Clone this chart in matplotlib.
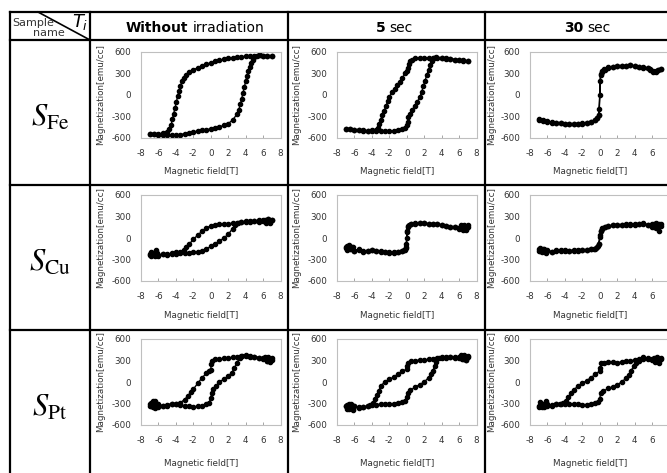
"""
Hysteresis loops M(H) for three samples (Fe, Cu, Pt) before and after
irradiation, laid out as a 3x3 table like the original report figure.
"""

import matplotlib
matplotlib.use("Agg")
import matplotlib.pyplot as plt
from matplotlib.lines import Line2D

W, H = 667, 473  # output size in pixels (dpi 100)

COLUMN_TITLES = [("Without", "irradiation"), ("5", "sec"), ("30", "sec")]
ROW_LABELS = [r"$S_{\mathrm{Fe}}$", r"$S_{\mathrm{Cu}}$", r"$S_{\mathrm{Pt}}$"]

X_TICKS = [-8, -6, -4, -2, 0, 2, 4, 6, 8]
Y_TICKS = [-600, -300, 0, 300, 600]

# (field [T], magnetization [emu/cc]): sweep down, then up
FE_WITHOUT = [
    (7, 545), (6.5, 550), (6, 548), (5.5, 552), (5, 548), (4.5, 545), (4, 540),
    (3.5, 535), (3, 528), (2.5, 520), (2, 512), (1.5, 500), (1, 485), (0.5, 470),
    (0, 450), (-0.5, 430), (-1, 405), (-1.5, 380), (-2, 350), (-2.5, 315),
    (-2.8, 285), (-3.1, 240), (-3.3, 190), (-3.5, 120), (-3.65, 50), (-3.8, -20),
    (-3.95, -100), (-4.1, -180), (-4.25, -260), (-4.4, -340), (-4.55, -420),
    (-4.75, -480), (-5, -515), (-5.5, -535), (-6, -540), (-6.5, -545), (-7, -540),
    (-7, -540), (-6.5, -548), (-6, -552), (-5.5, -555), (-5, -558), (-4.5, -560),
    (-4, -560), (-3.5, -552), (-3, -540), (-2.5, -528), (-2, -515), (-1.5, -505),
    (-1, -495), (-0.5, -485), (0, -472), (0.5, -460), (1, -445), (1.5, -425),
    (2, -400), (2.5, -350), (3, -270), (3.2, -210), (3.4, -130), (3.55, -50),
    (3.7, 30), (3.85, 110), (4, 190), (4.15, 260), (4.3, 330), (4.45, 390),
    (4.6, 440), (4.8, 490), (5, 525), (5.3, 545), (5.6, 552), (6, 550),
    (6.5, 548), (7, 545),
]
FE_5SEC = [
    (7, 478), (6.5, 482), (6, 490), (5.5, 495), (5, 500), (4.5, 505), (4, 510),
    (3.5, 515), (3, 518), (2.5, 520), (2, 520), (1.5, 518), (1, 510), (0.6, 495),
    (0.4, 470), (0.25, 430), (0.1, 380), (0, 340), (-0.2, 300), (-0.5, 240),
    (-0.8, 185), (-1.1, 135), (-1.4, 90), (-1.7, 35), (-2, -25), (-2.2, -90),
    (-2.4, -160), (-2.6, -220), (-2.8, -280), (-3, -350), (-3.15, -410),
    (-3.3, -460), (-3.5, -490), (-4, -495), (-4.5, -500), (-5, -495),
    (-5.5, -490), (-6, -485), (-6.5, -470), (-7, -480),
    (-7, -480), (-6.5, -470), (-6, -490), (-5.5, -495), (-5, -500), (-4.5, -505),
    (-4, -505), (-3.5, -505), (-3, -505), (-2.5, -502), (-2, -500), (-1.5, -498),
    (-1, -490), (-0.5, -475), (-0.2, -455), (0, -420), (0.1, -370), (0.2, -310),
    (0.35, -260), (0.6, -210), (0.9, -160), (1.2, -100), (1.5, -30), (1.7, 40),
    (1.9, 120), (2.1, 200), (2.3, 280), (2.5, 350), (2.7, 420), (2.9, 480),
    (3.1, 510), (3.4, 525), (4, 520), (4.5, 510), (5, 505), (5.5, 495),
    (6, 490), (6.5, 480), (7, 478),
]
FE_30SEC = [
    (7, 365), (6.7, 350), (6.4, 325), (6.1, 340), (5.8, 365), (5.5, 375),
    (5, 385), (4.5, 395), (4, 405), (3.5, 415), (3, 410), (2.5, 405), (2, 400),
    (1.5, 395), (1, 385), (0.5, 360), (0.25, 330), (0.1, 290), (0.05, 200),
    (0, 0), (-0.05, -200), (-0.1, -280), (-0.3, -315), (-0.6, -345), (-1, -370),
    (-1.5, -390), (-2, -400), (-2.5, -405), (-3, -405), (-3.5, -400), (-4, -400),
    (-4.5, -395), (-5, -385), (-5.5, -380), (-6, -370), (-6.5, -355), (-7, -345),
    (-7, -340), (-6.5, -360), (-6, -365), (-5.5, -385), (-5, -390), (-4.5, -395),
    (-4, -405), (-3.5, -400), (-3, -410), (-2.5, -400), (-2, -395), (-1.5, -390),
    (-1, -375), (-0.6, -350), (-0.3, -320), (-0.1, -285), (0.1, 285), (0.3, 320),
    (0.6, 350), (1, 380), (1.5, 390), (2, 400), (2.5, 410), (3, 405), (3.5, 420),
    (4, 400), (4.5, 390), (5, 380), (5.5, 370), (5.8, 345), (6.1, 320),
    (6.4, 335), (6.7, 355), (7, 360),
]
CU_WITHOUT = [
    (7, 250), (6.8, 210), (6.6, 262), (6.4, 225), (6.2, 250), (6, 235),
    (5.5, 245), (5, 232), (4.5, 240), (4, 228), (3.5, 222), (3, 215), (2.5, 205),
    (2, 200), (1.5, 195), (1, 190), (0.5, 182), (0, 170), (-0.5, 140), (-1, 95),
    (-1.5, 40), (-2, -20), (-2.5, -90), (-2.8, -130), (-3.1, -165), (-3.5, -190),
    (-4, -200), (-4.5, -215), (-5, -230), (-5.5, -220), (-6, -245), (-6.3, -170),
    (-6.5, -235), (-6.8, -200), (-7, -235),
    (-7, -225), (-6.8, -255), (-6.6, -205), (-6.4, -255), (-6.2, -215),
    (-6, -240), (-5.5, -225), (-5, -240), (-4.5, -225), (-4, -222), (-3.5, -215),
    (-3, -212), (-2.5, -208), (-2, -202), (-1.5, -195), (-1, -180), (-0.5, -152),
    (0, -118), (0.5, -82), (1, -45), (1.5, 0), (2, 50), (2.5, 130), (2.8, 180),
    (3.1, 210), (3.5, 222), (4, 232), (4.5, 218), (5, 242), (5.5, 230),
    (6, 258), (6.3, 215), (6.6, 268), (6.8, 225), (7, 255),
]
CU_5SEC = [
    (7, 150), (6.8, 110), (6.6, 180), (6.4, 120), (6.2, 175), (6, 140),
    (5.5, 150), (5, 160), (4.5, 170), (4, 180), (3.5, 190), (3, 195), (2.5, 200),
    (2, 205), (1.5, 205), (1, 205), (0.5, 195), (0.25, 180), (0.1, 150),
    (0.05, 80), (0, 0), (-0.05, -80), (-0.1, -140), (-0.3, -165), (-0.6, -180),
    (-1, -195), (-1.5, -200), (-2, -200), (-2.5, -195), (-3, -185), (-3.5, -175),
    (-4, -170), (-4.5, -180), (-5, -185), (-5.5, -165), (-6, -175), (-6.3, -120),
    (-6.5, -160), (-6.8, -110), (-7, -145),
    (-7, -130), (-6.8, -170), (-6.6, -100), (-6.4, -160), (-6.2, -130),
    (-6, -185), (-5.5, -150), (-5, -190), (-4.5, -175), (-4, -165), (-3.5, -180),
    (-3, -190), (-2.5, -200), (-2, -205), (-1.5, -205), (-1, -200), (-0.5, -185),
    (-0.2, -170), (-0.05, -120), (0.05, 100), (0.2, 165), (0.5, 190), (1, 200),
    (1.5, 210), (2, 205), (2.5, 200), (3, 200), (3.5, 195), (4, 185), (4.5, 170),
    (5, 160), (5.5, 150), (6, 130), (6.2, 165), (6.4, 105), (6.6, 150),
    (6.8, 125), (7, 175),
]
CU_30SEC = [
    (7, 190), (6.8, 100), (6.6, 170), (6.4, 140), (6.2, 200), (6, 160),
    (5.5, 185), (5, 210), (4.5, 190), (4, 185), (3.5, 190), (3, 185), (2.5, 180),
    (2, 180), (1.5, 175), (1, 170), (0.6, 160), (0.3, 140), (0.1, 100), (0, 10),
    (-0.1, -80), (-0.2, -110), (-0.4, -140), (-0.7, -155), (-1, -160),
    (-1.5, -165), (-2, -170), (-2.5, -170), (-3, -170), (-3.5, -175), (-4, -175),
    (-4.5, -170), (-5, -180), (-5.5, -190), (-6, -175), (-6.3, -200),
    (-6.5, -150), (-6.8, -185), (-7, -160),
    (-7, -175), (-6.8, -140), (-6.6, -195), (-6.4, -160), (-6.2, -210),
    (-6, -170), (-5.5, -200), (-5, -165), (-4.5, -185), (-4, -170), (-3.5, -180),
    (-3, -175), (-2.5, -175), (-2, -170), (-1.5, -165), (-1, -160), (-0.6, -150),
    (-0.3, -130), (-0.1, -90), (0.05, 40), (0.15, 100), (0.3, 130), (0.6, 150),
    (1, 165), (1.5, 175), (2, 180), (2.5, 185), (3, 190), (3.5, 185), (4, 190),
    (4.5, 195), (5, 200), (5.5, 180), (6, 190), (6.2, 150), (6.4, 210),
    (6.6, 160), (6.8, 200), (7, 170),
]
PT_WITHOUT = [
    (7, 310), (6.8, 280), (6.6, 330), (6.4, 300), (6.2, 345), (6, 320),
    (5.5, 340), (5, 355), (4.5, 350), (4, 365), (3.5, 360), (3, 355), (2.5, 345),
    (2, 335), (1.5, 330), (1, 320), (0.5, 315), (0.15, 300), (0.05, 250),
    (0, 170), (-0.2, 150), (-0.5, 120), (-1, 60), (-1.5, -20), (-2, -100),
    (-2.3, -140), (-2.6, -190), (-3, -245), (-3.5, -290), (-4, -305),
    (-4.5, -310), (-5, -330), (-5.5, -340), (-6, -355), (-6.2, -300),
    (-6.4, -360), (-6.6, -270), (-6.8, -330), (-7, -310),
    (-7, -330), (-6.8, -290), (-6.6, -350), (-6.4, -270), (-6.2, -340),
    (-6, -300), (-5.5, -335), (-5, -320), (-4.5, -300), (-4, -310), (-3.5, -315),
    (-3, -330), (-2.5, -340), (-2, -345), (-1.5, -340), (-1, -330), (-0.5, -310),
    (-0.2, -290), (0, -230), (0.1, -150), (0.3, -100), (0.6, -60), (1, 0),
    (1.5, 40), (2, 80), (2.4, 130), (2.7, 190), (3, 270), (3.3, 330),
    (3.6, 365), (4, 375), (4.5, 360), (5, 350), (5.5, 340), (6, 330),
    (6.4, 300), (6.6, 345), (6.8, 290), (7, 330),
]
PT_5SEC = [
    (7, 350), (6.8, 310), (6.6, 375), (6.4, 320), (6.2, 370), (6, 340),
    (5.5, 345), (5, 345), (4.5, 340), (4, 340), (3.5, 330), (3, 325), (2.5, 315),
    (2, 310), (1.5, 305), (1, 300), (0.5, 290), (0.2, 270), (0.05, 220),
    (0, 180), (-0.5, 150), (-1, 110), (-1.5, 70), (-2, 35), (-2.5, 5),
    (-3, -60), (-3.2, -120), (-3.4, -180), (-3.6, -240), (-3.9, -290),
    (-4.2, -320), (-4.5, -340), (-5, -350), (-5.5, -360), (-6, -330),
    (-6.2, -380), (-6.4, -310), (-6.6, -370), (-6.8, -320), (-7, -340),
    (-7, -330), (-6.8, -370), (-6.6, -300), (-6.4, -360), (-6.2, -390),
    (-6, -330), (-5.5, -355), (-5, -345), (-4.5, -335), (-4, -325), (-3.5, -315),
    (-3, -310), (-2.5, -308), (-2, -305), (-1.5, -300), (-1, -295), (-0.5, -280),
    (-0.2, -260), (0, -215), (0.1, -150), (0.4, -115), (1, -70), (1.5, -35),
    (2, 0), (2.5, 60), (2.8, 110), (3, 160), (3.2, 220), (3.4, 280), (3.7, 330),
    (4, 345), (4.5, 350), (5, 345), (5.5, 335), (6, 355), (6.3, 320),
    (6.6, 365), (6.8, 310), (7, 360),
]
PT_30SEC = [
    (7, 320), (6.8, 270), (6.6, 345), (6.4, 300), (6.2, 340), (6, 310),
    (5.5, 330), (5, 345), (4.5, 320), (4, 305), (3.5, 300), (3, 290), (2.5, 280),
    (2, 270), (1.5, 275), (1, 280), (0.5, 270), (0.2, 260), (0.05, 200),
    (0, 150), (-0.5, 110), (-1, 60), (-1.5, 20), (-2, -20), (-2.5, -60),
    (-3, -110), (-3.3, -160), (-3.6, -210), (-3.9, -260), (-4.2, -290),
    (-4.6, -300), (-5, -305), (-5.5, -320), (-6, -330), (-6.2, -290),
    (-6.4, -345), (-6.6, -300), (-6.8, -340), (-7, -350),
    (-7, -330), (-6.8, -280), (-6.6, -345), (-6.4, -300), (-6.2, -270),
    (-6, -310), (-5.5, -330), (-5, -305), (-4.5, -310), (-4, -300), (-3.5, -300),
    (-3, -305), (-2.5, -310), (-2, -315), (-1.5, -315), (-1, -310), (-0.5, -295),
    (-0.2, -280), (0, -240), (0.1, -150), (0.4, -125), (1, -90), (1.5, -65),
    (2, -40), (2.5, 0), (3, 50), (3.3, 100), (3.6, 160), (3.9, 220), (4.2, 270),
    (4.5, 300), (5, 325), (5.5, 315), (6, 320), (6.3, 280), (6.5, 340),
    (6.8, 300), (7, 330),
]

LOOPS = [
    [FE_WITHOUT, FE_5SEC, FE_30SEC],
    [CU_WITHOUT, CU_5SEC, CU_30SEC],
    [PT_WITHOUT, PT_5SEC, PT_30SEC],
]

# table geometry, pixels from the top-left corner
COL_X = [10, 90, 288, 485, 682]
ROW_Y = [12, 40, 185, 330, 475]
AX_LEFT = [141, 337, 530]
AX_TOP = [52, 195, 339]
AX_W, AX_H = 139.5, 86
XLABEL_DROP = [33, 34, 38]
HEADER_CX = [195, 394, 587]

plt.rcParams["font.family"] = ["DejaVu Sans"]
plt.rcParams["axes.unicode_minus"] = False

fig = plt.figure(figsize=(W / 100, H / 100), dpi=100)
fig.patch.set_facecolor("white")


def fx(px):
    return px / W


def fy(py):
    return 1 - py / H


def rule(x0, y0, x1, y1, lw=1.6):
    fig.add_artist(Line2D([fx(x0), fx(x1)], [fy(y0), fy(y1)],
                          transform=fig.transFigure, color="black", lw=lw,
                          solid_capstyle="projecting"))


# table grid
for x in COL_X:
    rule(x, ROW_Y[0], x, ROW_Y[-1])
for y in ROW_Y:
    rule(COL_X[0], y, COL_X[-1], y)
rule(38, 12, 90, 40, lw=1.2)  # diagonal in the corner cell

# corner cell labels
fig.text(fx(12), fy(26), "Sample", fontsize=8, color="#333333", va="baseline")
fig.text(fx(33), fy(36), "name", fontsize=8, color="#333333", va="baseline")
fig.text(fx(72), fy(27), r"$T_i$", fontsize=13, math_fontfamily="dejavusans",
         va="baseline")

# column headers: bold number/word followed by regular text
renderer = fig.canvas.get_renderer()
for (bold, rest), cx in zip(COLUMN_TITLES, HEADER_CX):
    t1 = fig.text(0, fy(32), bold, fontsize=10, fontweight="bold", va="baseline")
    t2 = fig.text(0, fy(32), rest, fontsize=10, va="baseline")
    w1 = t1.get_window_extent(renderer).width
    w2 = t2.get_window_extent(renderer).width
    gap = 4
    x0 = cx - (w1 + gap + w2) / 2
    t1.set_x(fx(x0))
    t2.set_x(fx(x0 + w1 + gap))

# row headers
for r, label in enumerate(ROW_LABELS):
    cy = (ROW_Y[r + 1] + ROW_Y[r + 2]) / 2 + 5
    fig.text(fx(50), fy(cy), label, fontsize=22, math_fontfamily="stix",
             ha="center", va="center")

# the nine loops
for r in range(3):
    for c in range(3):
        left, top = AX_LEFT[c], AX_TOP[r]
        ax = fig.add_axes([fx(left), fy(top + AX_H), AX_W / W, AX_H / H])
        field = [p[0] for p in LOOPS[r][c]]
        moment = [p[1] for p in LOOPS[r][c]]
        ax.plot(field, moment, color="black", lw=1.0, marker="o", ms=3.0,
                mec="black", mfc="black", clip_on=False)

        ax.set_xlim(-8, 8)
        ax.set_ylim(-600, 600)
        ax.set_xticks(X_TICKS)
        # the last column runs past the page edge, so its "8" is not shown
        xlabels = [str(v) for v in X_TICKS]
        if c == 2:
            xlabels[-1] = ""
        ax.set_xticklabels(xlabels)
        ax.set_yticks(Y_TICKS)
        ax.set_yticklabels([str(v) for v in Y_TICKS])
        ax.tick_params(axis="x", direction="in", length=2.5, width=0.7,
                       color="#a6a6a6", pad=8, labelsize=6.3, labelcolor="#333333")
        ax.tick_params(axis="y", length=0, pad=7, labelsize=6.3,
                       labelcolor="#333333")
        for sp in ax.spines.values():
            sp.set_color("#bfbfbf")
            sp.set_linewidth(0.8)

        ax.set_xlabel("Magnetic field[T]", fontsize=6.3, color="#333333")
        ax.set_ylabel("Magnetization[emu/cc]", fontsize=6.3, color="#333333")
        ax.xaxis.set_label_coords(0.5 - 10 / AX_W, -XLABEL_DROP[r] / AX_H)
        ax.xaxis.label.set_va("center")
        ax.yaxis.set_label_coords(-(40 if c < 2 else 38) / AX_W, 0.5)
        ax.yaxis.label.set_va("center")

fig.savefig("out.png", dpi=100, facecolor="white")
